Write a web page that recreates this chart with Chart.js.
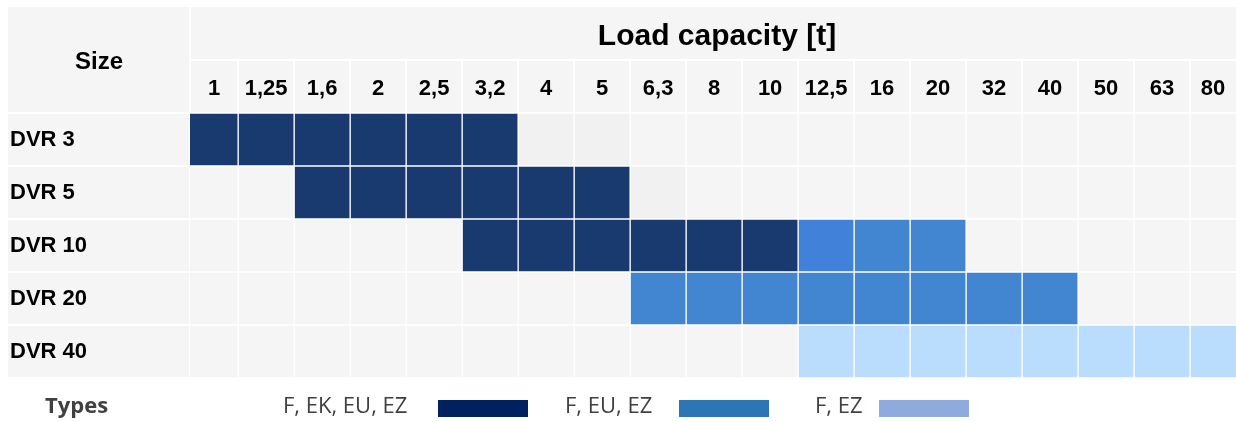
<!DOCTYPE html>
<html><head><meta charset="utf-8">
<script src="https://cdn.jsdelivr.net/npm/chart.js@4"></script>
<style>html,body{margin:0;padding:0;background:#fff;overflow:hidden}</style>
</head><body>
<canvas id="c" width="1236" height="422"></canvas>
<script>
// ---- data ----
const sizes = ['DVR 3', 'DVR 5', 'DVR 10', 'DVR 20', 'DVR 40'];
const capacities = ['1','1,25','1,6','2','2,5','3,2','4','5','6,3','8','10','12,5','16','20','32','40','50','63','80'];
// type codes: 0 = none, 9 = none (shaded), 1 = F, EK, EU, EZ, 2 = F, EU, EZ, 4 = F, EU, EZ (highlighted), 3 = F, EZ
const dvr3  = [1,1,1,1,1,1,9,9,0,0,0,0,0,0,0,0,0,0,0];
const dvr5  = [0,0,1,1,1,1,1,1,9,0,0,0,0,0,0,0,0,0,0];
const dvr10 = [0,0,0,0,0,1,1,1,1,1,1,4,2,2,0,0,0,0,0];
const dvr20 = [0,0,0,0,0,0,0,0,2,2,2,2,2,2,2,2,0,0,0];
const dvr40 = [0,0,0,0,0,0,0,0,0,0,0,3,3,3,3,3,3,3,3];
const typeLabels = ['F, EK, EU, EZ', 'F, EU, EZ', 'F, EZ'];

// ---- styles ----
const rowTypes = [dvr3, dvr5, dvr10, dvr20, dvr40];
const cellColor = {0:'#f5f5f5', 9:'#f1f1f1', 1:'#183a6f', 2:'#4286d1', 4:'#4281da', 3:'#badcfd'};
const legendColor = ['#002060', '#2e75b6', '#8faadc'];
const GRAY = '#f5f5f5';
const tableFont = '"Liberation Sans", Arial, sans-serif';

const datasets = capacities.map((cap, c) => ({
  label: cap,
  data: rowTypes.map(() => [c, c + 1]),
  backgroundColor: rowTypes.map(r => cellColor[r[c]]),
  borderColor: '#ffffff',
  borderWidth: 1,
  borderSkipped: false,
  grouped: false,
  categoryPercentage: 1,
  barPercentage: 1,
  clip: 0
}));

const tablePlugin = {
  id: 'table',
  beforeDraw(chart) {
    const {ctx, chartArea: ca, scales: {x, y}} = chart;
    ctx.save();
    ctx.fillStyle = GRAY;
    const band = (ca.bottom - ca.top) / sizes.length;
    // left column
    sizes.forEach((s, i) => {
      const cy = y.getPixelForValue(i);
      ctx.fillRect(8, cy - band / 2 + 1, ca.left - 9, band - 2);
    });
    // Size header
    ctx.fillRect(8, 7, ca.left - 9, ca.top - 8);
    // title header
    const h1 = 53;
    ctx.fillRect(ca.left + 1, 7, ca.right - ca.left - 1, h1 - 1);
    // capacity header cells
    capacities.forEach((cap, c) => {
      let x0 = Math.max(x.getPixelForValue(c), ca.left);
      let x1 = Math.min(x.getPixelForValue(c + 1), ca.right + 2);
      ctx.fillRect(x0 + 1, 7 + h1 + 1, x1 - x0 - 2, ca.top - 7 - h1 - 2);
    });
    // texts
    ctx.fillStyle = '#000';
    ctx.textAlign = 'center';
    ctx.textBaseline = 'middle';
    ctx.font = 'bold 24px ' + tableFont;
    ctx.fillText('Size', (8 + ca.left) / 2, 62);
    ctx.font = 'bold 30px ' + tableFont;
    ctx.fillText('Load capacity [t]', (ca.left + ca.right) / 2 + 4, 37);
    ctx.font = 'bold 22px ' + tableFont;
    capacities.forEach((cap, c) => {
      let x0 = Math.max(x.getPixelForValue(c), ca.left);
      let x1 = Math.min(x.getPixelForValue(c + 1), ca.right);
      ctx.fillText(cap, (x0 + x1) / 2, 89);
    });
    ctx.restore();
  },
  afterDraw(chart) {
    const {ctx} = chart;
    ctx.save();
    ctx.fillStyle = '#404040';
    ctx.textBaseline = 'middle';
    ctx.textAlign = 'left';
    ctx.font = 'bold 22px "Open Sans", "Noto Sans", sans-serif';
    ctx.fillText('Types', 45, 407);
    ctx.font = '22px "Open Sans", "Noto Sans", sans-serif';
    const textX = [283, 565, 815];
    const boxX = [438, 679, 879];
    typeLabels.forEach((t, i) => {
      ctx.fillStyle = '#404040';
      ctx.fillText(t, textX[i], 407);
      ctx.fillStyle = legendColor[i];
      ctx.fillRect(boxX[i], 400, 90, 17);
    });
    ctx.restore();
  }
};

new Chart(document.getElementById('c'), {
  type: 'bar',
  data: {labels: sizes, datasets},
  options: {
    indexAxis: 'y',
    responsive: false,
    animation: false,
    layout: {padding: {left: 10, top: 113, right: 0, bottom: 44}},
    plugins: {legend: {display: false}, tooltip: {enabled: false}},
    scales: {
      x: {type: 'linear', display: false, min: 0.14, max: 18.82},
      y: {
        type: 'category',
        grid: {display: false},
        border: {display: false},
        ticks: {crossAlign: 'far', color: '#000', font: {family: tableFont, size: 22, weight: 'bold'}},
        afterFit(s) { s.width = 180; }
      }
    }
  },
  plugins: [tablePlugin]
});
</script>
</body></html>
